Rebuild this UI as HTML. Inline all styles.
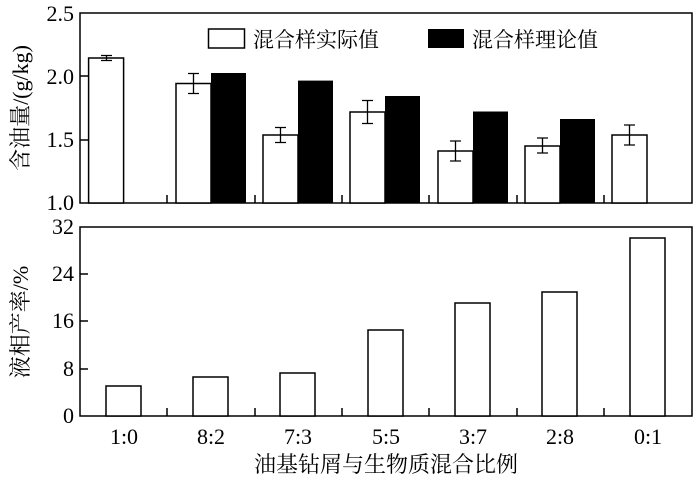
<!DOCTYPE html><html><head><meta charset="utf-8"><style>body{margin:0;background:#fff}svg text{font-family:"Liberation Serif","Noto Serif CJK SC",serif;fill:#000}</style></head><body>
<svg width="700" height="477" viewBox="0 0 700 477" xmlns="http://www.w3.org/2000/svg">
<g fill="none" stroke="#000" stroke-width="1.5">
<rect x="80" y="13" width="612" height="190"/>
<rect x="80" y="227" width="612" height="189"/>
</g>
<g stroke="#000" stroke-width="1.5">
<line x1="80" y1="76" x2="88" y2="76"/><line x1="80" y1="140" x2="88" y2="140"/>
<line x1="80" y1="274" x2="88" y2="274"/><line x1="80" y1="321" x2="88" y2="321"/><line x1="80" y1="369" x2="88" y2="369"/>
<line x1="167" y1="203" x2="167" y2="195"/><line x1="255" y1="203" x2="255" y2="195"/><line x1="342" y1="203" x2="342" y2="195"/><line x1="429" y1="203" x2="429" y2="195"/><line x1="517" y1="203" x2="517" y2="195"/><line x1="604" y1="203" x2="604" y2="195"/>
<line x1="167" y1="416" x2="167" y2="408"/><line x1="255" y1="416" x2="255" y2="408"/><line x1="342" y1="416" x2="342" y2="408"/><line x1="429" y1="416" x2="429" y2="408"/><line x1="517" y1="416" x2="517" y2="408"/><line x1="604" y1="416" x2="604" y2="408"/>
</g>
<g fill="#fff" stroke="#000" stroke-width="1.5">
<rect x="88.6" y="58" width="35" height="145"/>
<rect x="176" y="83.5" width="35" height="119.5"/>
<rect x="263" y="135" width="35" height="68"/>
<rect x="350" y="112" width="35" height="91"/>
<rect x="438" y="151" width="35" height="52"/>
<rect x="525" y="146" width="35" height="57"/>
<rect x="612" y="135" width="35" height="68"/>
</g>
<g fill="#000">
<rect x="211" y="73" width="35" height="130"/>
<rect x="298" y="80.6" width="35" height="122.4"/>
<rect x="385" y="96" width="35" height="107"/>
<rect x="473" y="111.5" width="35" height="91.5"/>
<rect x="560" y="119" width="35" height="84"/>
</g>
<g stroke="#000" stroke-width="1.3" fill="none">
<path d="M101 55.5h11M106.5 55.5v5M101 60.5h11"/>
<path d="M193.5 73.5v20M188 73.5h11M188 93.5h11"/>
<path d="M280.5 127.5v15M275 127.5h11M275 142.5h11"/>
<path d="M367.5 100.5v23M362 100.5h11M362 123.5h11"/>
<path d="M455.5 141v20M450 141h11M450 161h11"/>
<path d="M542.5 138v15M537 138h11M537 153h11"/>
<path d="M629.5 125v20M624 125h11M624 145h11"/>
</g>
<g fill="#fff" stroke="#000" stroke-width="1.5">
<rect x="106" y="386" width="35" height="30"/>
<rect x="193" y="377" width="35" height="39"/>
<rect x="280" y="373" width="35" height="43"/>
<rect x="368" y="330" width="35" height="86"/>
<rect x="455" y="303" width="35" height="113"/>
<rect x="542" y="292" width="35" height="124"/>
<rect x="630" y="238" width="35" height="178"/>
</g>
<rect x="208.5" y="29" width="36" height="19" fill="#fff" stroke="#000" stroke-width="1.5"/>
<text x="253" y="47" font-size="21">混合样实际值</text>
<rect x="428" y="29" width="36" height="19" fill="#000"/>
<text x="472" y="47" font-size="21">混合样理论值</text>
<g font-size="22" text-anchor="end">
<text x="74" y="21">2.5</text><text x="74" y="84">2.0</text><text x="74" y="147">1.5</text><text x="74" y="210">1.0</text>
<text x="74" y="234">32</text><text x="74" y="281">24</text><text x="74" y="328">16</text><text x="74" y="376">8</text><text x="74" y="423">0</text>
</g>
<g font-size="22" text-anchor="middle">
<text x="124" y="444">1:0</text><text x="211" y="444">8:2</text><text x="298" y="444">7:3</text><text x="386" y="444">5:5</text><text x="473" y="444">3:7</text><text x="560" y="444">2:8</text><text x="648" y="444">0:1</text>
<text x="386" y="472">油基钻屑与生物质混合比例</text>
<text transform="translate(28,108) rotate(-90)">含油量/(g/kg)</text>
<text transform="translate(28,322) rotate(-90)">液相产率/%</text>
</g>
</svg></body></html>
